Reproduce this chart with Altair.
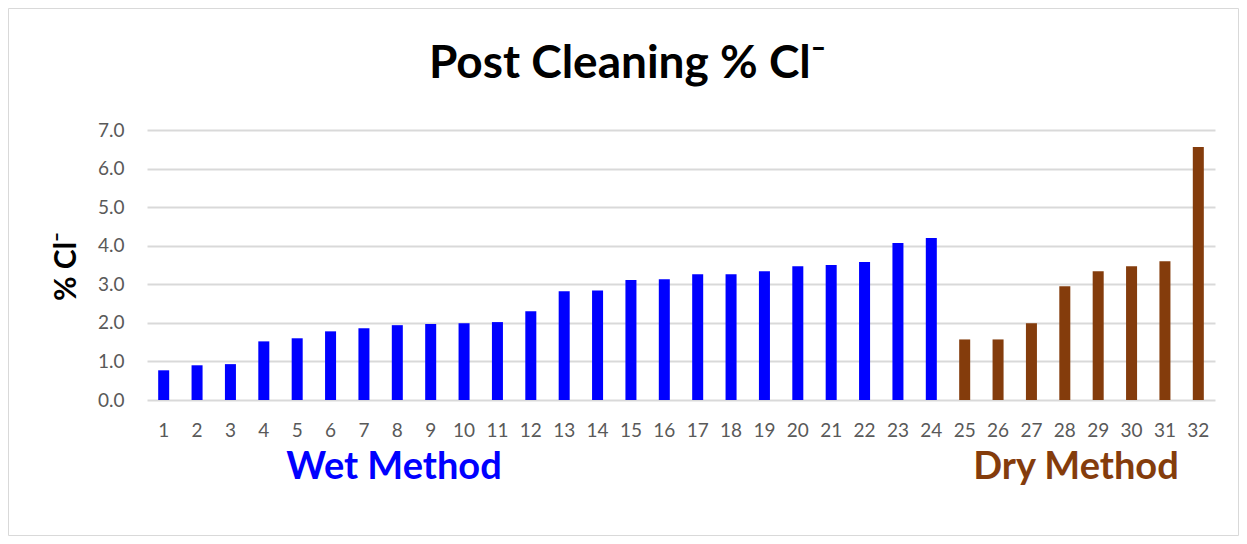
import altair as alt
import pandas as pd

# ---- data ----
samples = list(range(1, 33))
cl_values = [0.77, 0.90, 0.93, 1.52, 1.60, 1.78, 1.86, 1.94, 1.97, 1.99, 2.02, 2.30,
             2.82, 2.84, 3.11, 3.13, 3.26, 3.26, 3.34, 3.47, 3.50, 3.58, 4.07, 4.20,
             1.57, 1.57, 1.99, 2.95, 3.34, 3.47, 3.60, 6.56]
methods = ["Wet Method"] * 24 + ["Dry Method"] * 8
y_ticks = [0, 1, 2, 3, 4, 5, 6, 7]
group_names = ["Wet Method", "Dry Method"]
group_colors = ["#0000FF", "#843C0C"]
title_text = "Post Cleaning % Cl\u207b"
y_title = "% Cl\u207b"

df = pd.DataFrame({"sample": samples, "value": cl_values, "method": methods})

FONT = "Lato"
W, H = 1068, 270

bars = alt.Chart(df).mark_bar().encode(
    x=alt.X("sample:O", sort=samples,
            scale=alt.Scale(paddingInner=0.67, paddingOuter=0.335),
            axis=alt.Axis(title=None, labelAngle=0, labelFontSize=19, labelColor="#595959",
                          labelFont=FONT, labelPadding=21, ticks=False, domain=False,
                          grid=False)),
    y=alt.Y("value:Q", scale=alt.Scale(domain=[0, 7], nice=False),
            axis=alt.Axis(values=y_ticks, format=".1f", labelFontSize=19, labelColor="#595959",
                          labelFont=FONT, labelPadding=23, ticks=False, domain=False,
                          grid=True, gridColor="#d9d9d9", gridWidth=1.8,
                          title=y_title, titleFont=FONT, titleFontSize=30,
                          titleFontWeight="bold", titleColor="#000000",
                          titleAngle=-90, titleX=-72, titleY=136,
                          titleAlign="center", titleBaseline="alphabetic")),
    color=alt.Color("method:N", scale=alt.Scale(domain=group_names, range=group_colors),
                    legend=None),
)

title = alt.Chart(alt.Data(values=[{"t": title_text}])).mark_text(
    font=FONT, fontSize=46, fontWeight="bold", color="#000000",
    align="center", baseline="alphabetic"
).encode(text="t:N", x=alt.value(480.5), y=alt.value(-52))

labels_df = pd.DataFrame({"name": group_names, "color": group_colors,
                          "px": [247, 929]})
group_text = alt.Chart(labels_df).mark_text(
    font=FONT, fontSize=38, fontWeight="bold", align="center", baseline="alphabetic"
).encode(
    text="name:N",
    x=alt.X("px:Q", scale=None),
    y=alt.value(349),
    color=alt.Color("color:N", scale=None),
)

border = alt.Chart(alt.Data(values=[{}])).mark_rect(
    fill=None, stroke="#d9d9d9", strokeWidth=1
).encode(x=alt.value(-138.5), x2=alt.value(1091.5), y=alt.value(-121.5), y2=alt.value(405.5))

chart = alt.layer(bars, title, group_text, border).properties(
    width=W, height=H,
    autosize=alt.AutoSizeParams(type="none"),
    padding={"left": 139, "top": 122, "right": 24, "bottom": 136},
    background="#ffffff",
).configure_view(stroke=None)

chart.save("out.html", embed_options={"renderer": "svg", "actions": False})
